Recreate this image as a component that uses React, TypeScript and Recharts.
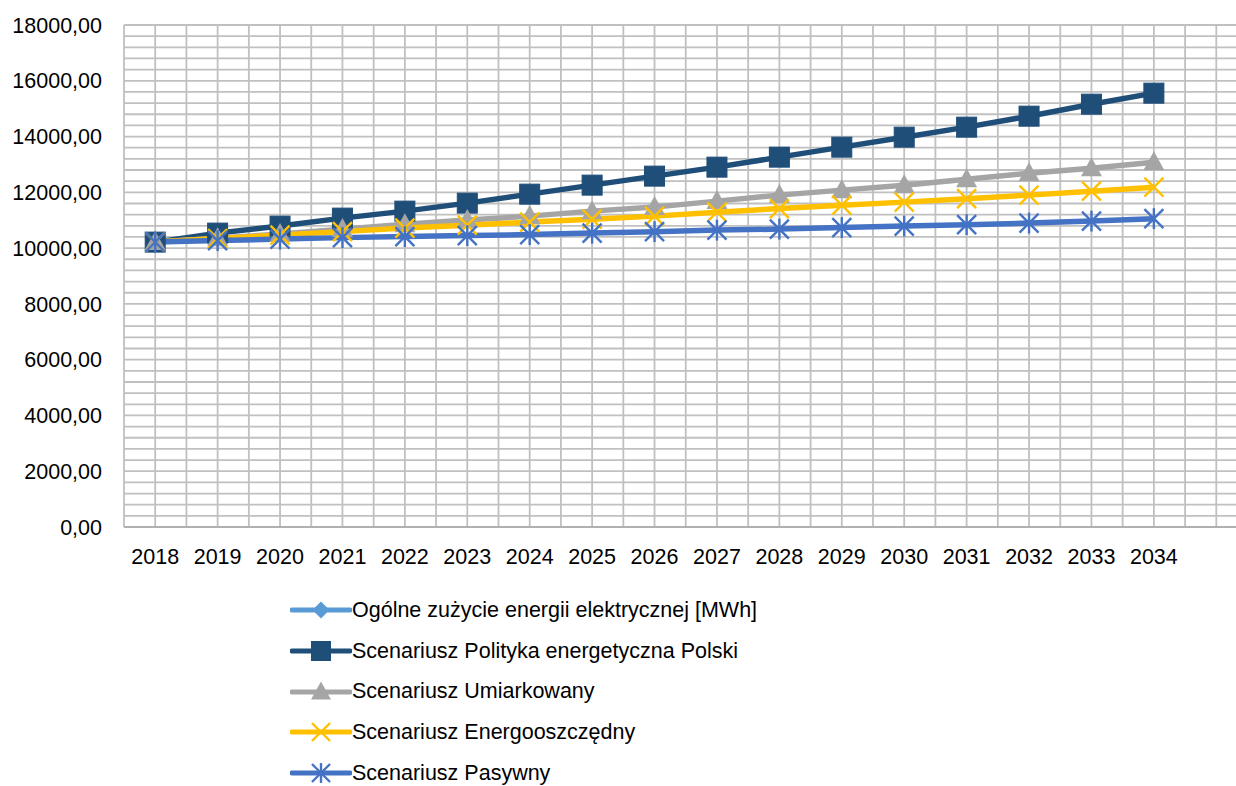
import React from 'react';
import { LineChart, Line, XAxis, YAxis, CartesianGrid, Legend } from 'recharts';

const years = ['2018','2019','2020','2021','2022','2023','2024','2025','2026','2027','2028','2029','2030','2031','2032','2033','2034',''];
const ogolne = [10215, null, null, null, null, null, null, null, null, null, null, null, null, null, null, null, null, null];
const polityka = [10215,10538,10789,11075,11326,11613,11935,12258,12581,12903,13262,13620,13978,14337,14731,15161,15556,null];
const umiarkowany = [10215,10358,10502,10681,10860,11004,11147,11326,11470,11685,11900,12079,12258,12473,12688,12867,13082,null];
const energo = [10215,10341,10466,10591,10717,10824,10932,11039,11147,11290,11416,11541,11649,11774,11900,12043,12186,null];
const pasywny = [10215,10269,10323,10376,10412,10448,10484,10538,10591,10645,10681,10735,10789,10842,10896,10968,11057,null];
const yTicks = [0,2000,4000,6000,8000,10000,12000,14000,16000,18000];

const seriesNames = [
  'Ogólne zużycie energii elektrycznej [MWh]',
  'Scenariusz Polityka energetyczna Polski',
  'Scenariusz Umiarkowany',
  'Scenariusz Energooszczędny',
  'Scenariusz Pasywny',
];
const seriesKeys = ['ogolne','polityka','umiarkowany','energo','pasywny'];
const seriesColors = ['#5b9bd5','#1f4e79','#a5a5a5','#ffc000','#4472c4'];
const seriesShapes = ['diamond','square','triangle','x','star'];

const data = years.map((y, i) => ({
  year: y,
  ogolne: ogolne[i],
  polityka: polityka[i],
  umiarkowany: umiarkowany[i],
  energo: energo[i],
  pasywny: pasywny[i],
}));

const FONT = '"Liberation Sans", Arial, sans-serif';

function MarkerShape({ shape, color, cx, cy, scale = 1 }: any) {
  const s = scale;
  if (shape === 'square') {
    const h = 10 * s;
    return <rect x={cx - h} y={cy - h} width={2 * h} height={2 * h} fill={color} stroke={color} strokeWidth={1} />;
  }
  if (shape === 'triangle') {
    const w = 10.5 * s, t = 11 * s, b = 8 * s;
    return <polygon points={`${cx},${cy - t} ${cx + w},${cy + b} ${cx - w},${cy + b}`} fill={color} />;
  }
  if (shape === 'diamond') {
    const r = 9 * s;
    return <polygon points={`${cx},${cy - r} ${cx + r},${cy} ${cx},${cy + r} ${cx - r},${cy}`} fill={color} />;
  }
  if (shape === 'x') {
    const r = 9.5 * s;
    return (
      <g stroke={color} strokeWidth={2.4}>
        <line x1={cx - r} y1={cy - r} x2={cx + r} y2={cy + r} />
        <line x1={cx - r} y1={cy + r} x2={cx + r} y2={cy - r} />
      </g>
    );
  }
  const r = 9.5 * s;
  return (
    <g stroke={color} strokeWidth={2.4}>
      <line x1={cx - r} y1={cy - r} x2={cx + r} y2={cy + r} />
      <line x1={cx - r} y1={cy + r} x2={cx + r} y2={cy - r} />
      <line x1={cx} y1={cy - r * 1.1} x2={cx} y2={cy + r * 1.1} />
    </g>
  );
}

const makeDot = (idx: number) => (props: any) => {
  const { cx, cy, index, value } = props;
  if (cx == null || cy == null || value == null) return <g key={`d-${idx}-${index}`} />;
  return (
    <g key={`d-${idx}-${index}`}>
      <MarkerShape shape={seriesShapes[idx]} color={seriesColors[idx]} cx={cx} cy={cy} />
    </g>
  );
};

const LegendContent = () => (
  <div style={{ fontFamily: FONT, fontSize: 21.5, color: '#000' }}>
    {seriesNames.map((name, i) => (
      <div key={name} style={{ display: 'flex', alignItems: 'center', height: 40.7 }}>
        <svg width={62} height={24} style={{ display: 'block' }}>
          <line x1={2} y1={12} x2={60} y2={12} stroke={seriesColors[i]} strokeWidth={5} strokeLinecap="round" />
          <MarkerShape shape={seriesShapes[i]} color={seriesColors[i]} cx={31} cy={12} scale={0.95} />
        </svg>
        <span style={{ whiteSpace: 'nowrap' }}>{name}</span>
      </div>
    ))}
  </div>
);

const vGen = ({ offset }: any) => {
  const out: number[] = [];
  for (let i = 0; i <= years.length * 2; i++) out.push(offset.left + (i * offset.width) / (years.length * 2));
  return out;
};
const hGen = ({ offset }: any) => {
  const out: number[] = [];
  const n = (yTicks.length - 1) * 5;
  for (let i = 0; i <= n; i++) out.push(offset.top + (i * offset.height) / n);
  return out;
};

export default function App() {
  return (
    <div style={{ position: 'absolute', left: 0, top: 0, width: 1236, height: 786, overflow: 'hidden', background: '#fff' }}>
      <LineChart width={1260} height={786} data={data} margin={{ top: 25, right: 12.5, left: 0, bottom: 219 }}>
        <CartesianGrid stroke="#c0c0c0" strokeWidth={1.8} verticalCoordinatesGenerator={vGen} horizontalCoordinatesGenerator={hGen} />
        <XAxis
          dataKey="year"
          interval={0}
          height={40}
          padding={{ left: 31.2, right: 31.2 }}
          tickSize={0}
          tickMargin={22}
          tickLine={false}
          axisLine={{ stroke: '#b0b0b0', strokeWidth: 2 }}
          tick={{ fill: '#000', fontSize: 21.5, fontFamily: FONT }}
        />
        <YAxis
          width={124}
          domain={[0, 18000]}
          ticks={yTicks}
          interval={0}
          tickSize={0}
          tickMargin={22}
          tickLine={false}
          axisLine={false}
          tickFormatter={(v: number) => v.toFixed(2).replace('.', ',')}
          tick={{ fill: '#000', fontSize: 21.5, fontFamily: FONT }}
        />
        <Legend
          layout="vertical"
          align="center"
          verticalAlign="middle"
          wrapperStyle={{ left: 290, top: 590, width: 600 }}
          content={LegendContent}
        />
        {seriesKeys.map((k, i) => (
          <Line
            key={k}
            type="linear"
            dataKey={k}
            name={seriesNames[i]}
            stroke={seriesColors[i]}
            strokeWidth={5.5}
            dot={makeDot(i)}
            activeDot={false}
            isAnimationActive={false}
          />
        ))}
      </LineChart>
    </div>
  );
}
